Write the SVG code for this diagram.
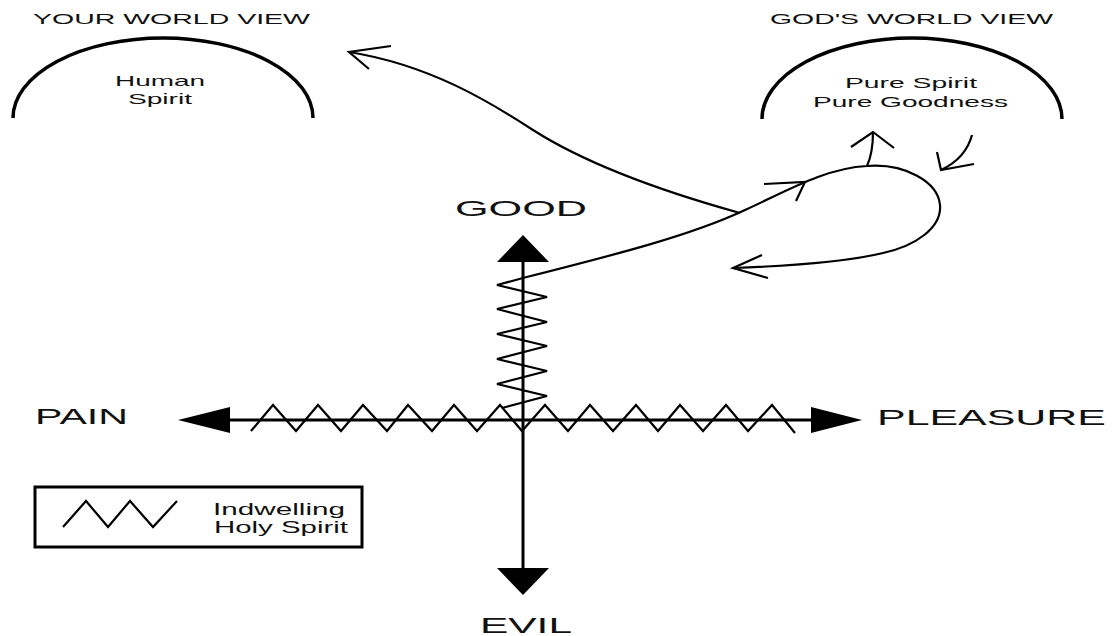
<svg xmlns="http://www.w3.org/2000/svg" width="1112" height="636" viewBox="0 0 1112 636">
<style>
  text { font-family: "Liberation Sans", Arial, sans-serif; fill: #111; }
  .t15 { font-size: 15px; }
  .t17 { font-size: 17px; }
  .big { font-size: 22px; }
  .arc { fill: none; stroke: #000; stroke-width: 3.5; }
  .ln { fill: none; stroke: #000; stroke-width: 2.2; }
  .ax { fill: none; stroke: #000; stroke-width: 3; }
  .zz { fill: none; stroke: #000; stroke-width: 2.2; stroke-linejoin: miter; }
  .head { fill: #000; stroke: none; }
</style>
<rect width="1112" height="636" fill="#fff"/>

<g id="your-world-view">
  <text class="t15" x="33" y="24" textLength="277" lengthAdjust="spacingAndGlyphs">YOUR WORLD VIEW</text>
  <path class="arc" d="M13,118 A150,80 0 0 1 313,118"/>
  <text class="t15" x="115" y="86" textLength="90" lengthAdjust="spacingAndGlyphs">Human</text>
  <text class="t15" x="128" y="104" textLength="64" lengthAdjust="spacingAndGlyphs">Spirit</text>
</g>

<g id="gods-world-view">
  <text class="t15" x="770" y="24" textLength="283" lengthAdjust="spacingAndGlyphs">GOD'S WORLD VIEW</text>
  <path class="arc" d="M762,119 A150,81 0 0 1 1062,119"/>
  <text class="t15" x="845" y="88" textLength="132" lengthAdjust="spacingAndGlyphs">Pure Spirit</text>
  <text class="t15" x="813" y="107" textLength="195" lengthAdjust="spacingAndGlyphs">Pure Goodness</text>
</g>

<g id="axes">
  <line class="ax" x1="523" y1="262" x2="523" y2="568"/>
  <line class="ax" x1="230" y1="420" x2="811" y2="420"/>
  <polygon class="head" points="523,235 497,262 549,262"/>
  <polygon class="head" points="523,595 497,568 549,568"/>
  <polygon class="head" points="178,420 230,407 230,433"/>
  <polygon class="head" points="862,420 811,407 811,433"/>
</g>

<g id="labels">
  <text class="big" x="455" y="216" font-size="25" textLength="132" lengthAdjust="spacingAndGlyphs">GOOD</text>
  <text class="big" x="480" y="633" textLength="92" lengthAdjust="spacingAndGlyphs">EVIL</text>
  <text class="big" x="35" y="424" textLength="93" lengthAdjust="spacingAndGlyphs">PAIN</text>
  <text class="big" x="877" y="425" textLength="229" lengthAdjust="spacingAndGlyphs">PLEASURE</text>
</g>

<g id="holy-spirit-zigzags">
  <polyline class="zz" points="523,278 497,285 547,297 497,309 547,322 497,334 547,346 497,359 547,371 497,384 547,396 502,408"/>
  <polyline class="zz" points="251,431 273,405 296,431 318,405 341,431 363,405 387,431 408,405 432,431 454,405 477,431 500,405 522,431 545,405 568,431 590,405 613,431 636,405 658,431 680,405 703,431 726,405 748,431 772,405 795,433"/>
</g>

<g id="connectors">
  <path class="ln" d="M523,278 C610,256 690,236 745,210 C785,192 825,168 867,166 C905,163 938,182 940,205 C942,228 915,246 883,253 C850,261 790,266 733,268"/>
  <polyline class="ln" points="764,184 805,182 796,201"/>
  <polyline class="ln" points="762,255 733,268 768,278"/>
  <path class="ln" d="M740,213 C650,188 580,160 533,130 C490,102 430,65 349,52"/>
  <polyline class="ln" points="391,46 349,52 369,69"/>
  <path class="ln" d="M867,166 C872,155 873,145 873,132"/>
  <polyline class="ln" points="851,147 873,132 894,148"/>
  <path class="ln" d="M972,135 C968,150 958,162 941,170"/>
  <polyline class="ln" points="937,152 941,170 974,164"/>
</g>

<g id="legend">
  <rect x="35" y="487" width="327" height="60" fill="none" stroke="#000" stroke-width="3"/>
  <polyline class="zz" points="63,527 86,501 108,527 130,501 153,527 177,501"/>
  <text class="t17" x="213" y="515" textLength="132" lengthAdjust="spacingAndGlyphs">Indwelling</text>
  <text class="t17" x="214" y="533" textLength="134" lengthAdjust="spacingAndGlyphs">Holy Spirit</text>
</g>
</svg>
